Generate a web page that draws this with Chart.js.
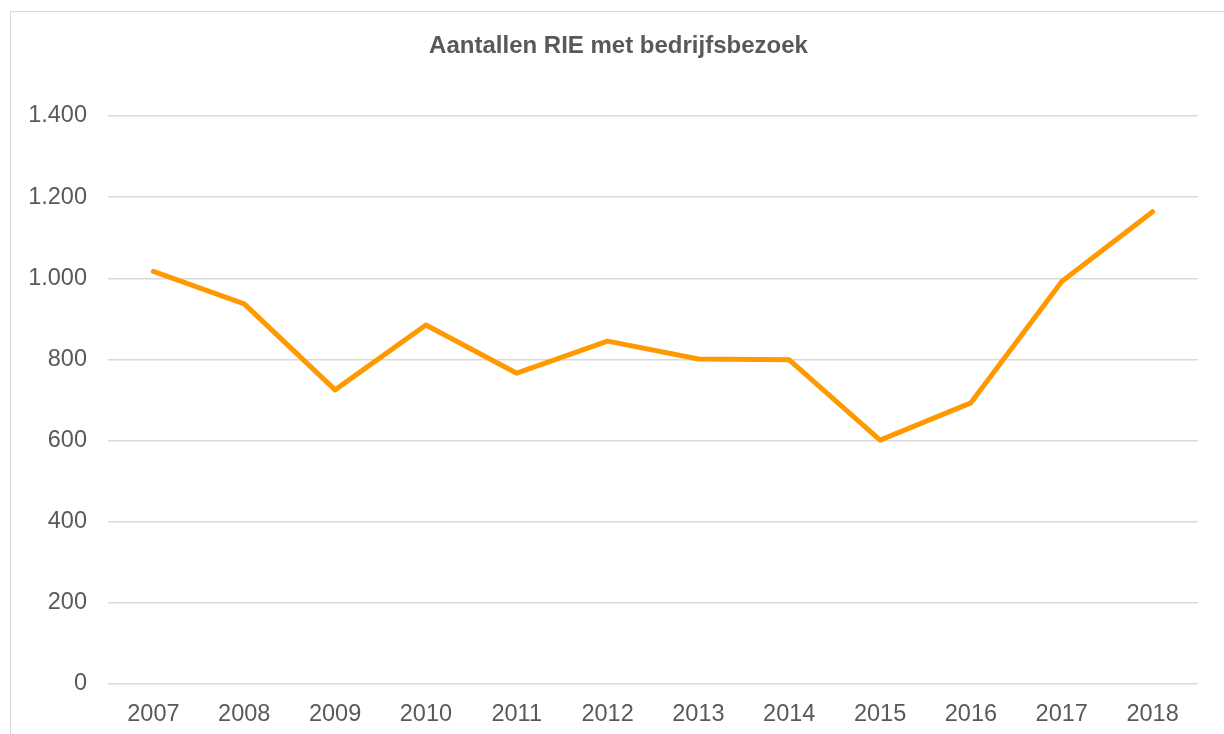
<!DOCTYPE html>
<html>
<head>
<meta charset="utf-8">
<script src="https://cdn.jsdelivr.net/npm/chart.js@4.4.0/dist/chart.umd.min.js"></script>
<style>
  html, body { margin: 0; padding: 0; background: #fff; overflow: hidden; }
  .frame { position: absolute; left: 10px; top: 11px; width: 1400px; height: 900px; border: 1px solid #d9d9d9; }
  .wrap { position: absolute; left: 0; top: 0; width: 1224px; height: 734px; }
</style>
</head>
<body>
<div class="frame"></div>
<div class="wrap"><canvas id="myChart" width="1224" height="734"></canvas></div>
<script>
const years = ['2007', '2008', '2009', '2010', '2011', '2012', '2013', '2014', '2015', '2016', '2017', '2018'];
const rieCounts = [1017, 937, 725, 885, 766, 845, 801, 799, 601, 693, 992, 1164];
const yTicks = [0, 200, 400, 600, 800, 1000, 1200, 1400];
const chartTitle = 'Aantallen RIE met bedrijfsbezoek';

const textColor = '#595959';
const gridColor = '#d9d9d9';
const fontFamily = 'Liberation Sans, Arial, sans-serif';

function dutchNumber(v) {
    return String(v).replace(/\B(?=(\d{3})+(?!\d))/g, '.');
}

// the title in the reference sits centred on the frame, not on the plot box
const frameTitle = {
    id: 'frameTitle',
    afterDraw(chart) {
        const c = chart.ctx;
        c.save();
        c.font = `bold 24px ${fontFamily}`;
        c.fillStyle = textColor;
        c.textAlign = 'center';
        c.textBaseline = 'middle';
        c.fillText(chartTitle, 618.5, 46);
        c.restore();
    }
};

const ctx = document.getElementById('myChart').getContext('2d');
const myChart = new Chart(ctx, {
    type: 'line',
    data: {
        labels: years,
        datasets: [{
            label: chartTitle,
            data: rieCounts,
            borderColor: '#ff9900',
            backgroundColor: '#ff9900',
            borderWidth: 5,
            borderCapStyle: 'round',
            borderJoinStyle: 'round',
            pointRadius: 0,
            tension: 0,
            fill: false
        }]
    },
    plugins: [frameTitle],
    options: {
        responsive: false,
        animation: false,
        layout: { padding: { left: 0, right: 26, top: 116, bottom: 0 } },
        plugins: {
            legend: { display: false },
            tooltip: { enabled: false },
            title: { display: false }
        },
        scales: {
            x: {
                offset: true,
                grid: { display: false, drawTicks: false },
                border: { display: false },
                ticks: {
                    color: textColor,
                    padding: 16,
                    maxRotation: 0,
                    font: { family: fontFamily, size: 23.5 }
                },
                afterFit: (scale) => { scale.height = 50; }
            },
            y: {
                min: 0,
                max: 1400,
                afterBuildTicks: (scale) => { scale.ticks = yTicks.map(v => ({ value: v })); },
                grid: { color: gridColor, lineWidth: 1.5, drawTicks: false },
                border: { display: false },
                ticks: {
                    color: textColor,
                    padding: 21,
                    font: { family: fontFamily, size: 23.5 },
                    callback: (v) => dutchNumber(v)
                },
                afterFit: (scale) => { scale.width = 108; }
            }
        }
    }
});
</script>
</body>
</html>
